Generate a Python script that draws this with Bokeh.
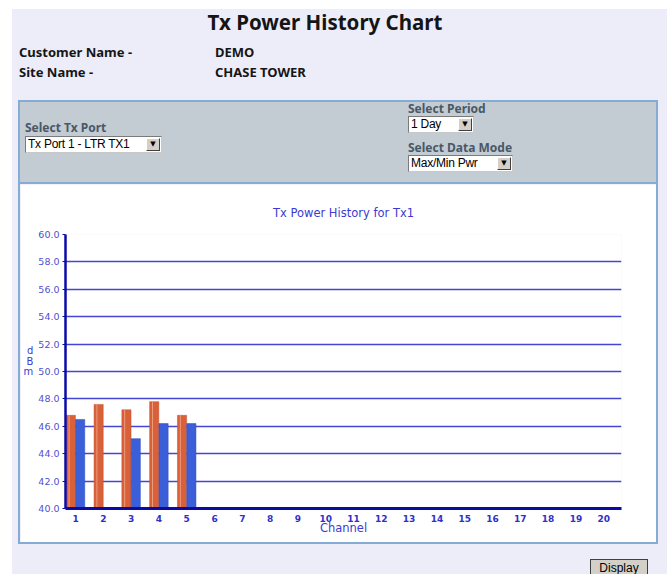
from bokeh.plotting import figure
from bokeh.layouts import column, row
from bokeh.models import (Div, FixedTicker, SingleIntervalTicker,
                          PrintfTickFormatter, Range1d, ColumnDataSource)
from bokeh.transform import dodge
from bokeh.embed import file_html
from bokeh.resources import INLINE

NaN = float("nan")

# ---------------- data ----------------
channels = [1, 2, 3, 4, 5, 6, 7, 8, 9, 10, 11, 12, 13, 14, 15, 16, 17, 18, 19, 20]
max_pwr = [46.8, 47.6, 47.2, 47.8, 46.8, NaN, NaN, NaN, NaN, NaN,
           NaN, NaN, NaN, NaN, NaN, NaN, NaN, NaN, NaN, NaN]
min_pwr = [46.5, NaN, 45.1, 46.2, 46.2, NaN, NaN, NaN, NaN, NaN,
           NaN, NaN, NaN, NaN, NaN, NaN, NaN, NaN, NaN, NaN]
y_min, y_max = 40.0, 60.0
page_title = "Tx Power History Chart"
customer = "DEMO"
site = "CHASE TOWER"
port_option = "Tx Port 1 - LTR TX1"
period_option = "1 Day"
mode_option = "Max/Min Pwr"
chart_title = "Tx Power History for Tx1"

# ---------------- styles ----------------
LAV = "#EDEDFA"
PANEL_GRAY = "#C3CBD3"
EDGE = "#86ACD6"
SEL_TXT = "#4A5866"
BLUE_TXT = "#3B3BCF"
GRID = "#4545D4"
AXIS = "#0A0AA8"
ORANGE = "#D8613A"
BLUE = "#3A5FD8"

ROOT_W = 655
HDR_H = 175
CH_W, CH_H = 636, 358
FTR_H = 32


def abs_text(left, top, text, font, color="#151515", extra=""):
    return (f'<div style="position:absolute;left:{left}px;top:{top}px;white-space:nowrap;'
            f'font:{font};color:{color};{extra}">{text}</div>')


def dropdown(left, top, w, h, text):
    return (f'<div style="position:absolute;left:{left}px;top:{top}px;width:{w}px;height:{h}px;'
            f'box-sizing:border-box;background:#ffffff;border:1px solid;'
            f'border-color:#7a7a7a #c8c8c8 #c8c8c8 #7a7a7a;">'
            f'<div style="position:absolute;left:2px;top:0px;white-space:nowrap;'
            f'font:12px/15px \'Liberation Sans\';letter-spacing:-0.25px;color:#000;">{text}</div>'
            f'<div style="position:absolute;right:1px;top:1px;width:14px;height:13px;'
            f'box-sizing:border-box;background:#D4D0C8;border:1px solid;'
            f'border-color:#ffffff #404040 #404040 #ffffff;font:7px/11px \'DejaVu Sans\';'
            f'text-align:center;color:#000;">&#9660;</div></div>')


HB = "bold 13px/16px 'Noto Sans'"
SB = "bold 12px/14px 'Noto Sans'"
header_html = (
    f'<div style="position:relative;width:{ROOT_W}px;height:{HDR_H}px;background:{LAV};overflow:hidden;">'
    + abs_text(0, 1, page_title, "bold 20.5px/24px 'Noto Sans'", extra="width:626px;text-align:center;")
    + abs_text(7, 35, "Customer Name -", HB)
    + abs_text(203, 35, customer, HB)
    + abs_text(7, 55, "Site Name -", HB)
    + abs_text(203, 55, site, HB)
    + f'<div style="position:absolute;left:6px;top:91px;width:640px;height:84px;box-sizing:border-box;'
      f'background:{PANEL_GRAY};border:2px solid {EDGE};"></div>'
    + abs_text(13, 112, "Select Tx Port", SB, SEL_TXT)
    + dropdown(13, 127, 137, 17, port_option)
    + abs_text(396, 93, "Select Period", SB, SEL_TXT)
    + dropdown(396, 107, 66, 17, period_option)
    + abs_text(396, 132, "Select Data Mode", SB, SEL_TXT)
    + dropdown(396, 146, 105, 17, mode_option)
    + '</div>'
)
header = Div(text=header_html, width=ROOT_W, height=HDR_H, margin=0)

left_strip = Div(text=f'<div style="width:8px;height:{CH_H}px;background:linear-gradient(to right, {LAV} 0px, {LAV} 6px, {EDGE} 6px, {EDGE} 8px);"></div>',
                 width=8, height=CH_H, margin=0)
right_strip = Div(text=f'<div style="width:11px;height:{CH_H}px;background:linear-gradient(to right, {EDGE} 0px, {EDGE} 2px, {LAV} 2px, {LAV} 11px);"></div>',
                  width=11, height=CH_H, margin=0)

footer_html = (
    f'<div style="position:relative;width:{ROOT_W}px;height:{FTR_H}px;background:{LAV};overflow:hidden;">'
    f'<div style="position:absolute;left:6px;top:0px;width:640px;height:2px;background:{EDGE};"></div>'
    f'<div style="position:absolute;left:578px;top:17px;width:58px;height:18px;box-sizing:border-box;'
    f'background:#D4D0C8;border:1px solid #404040;font:12px/16px \'Liberation Sans\';'
    f'text-align:center;color:#000;">Display</div>'
    '</div>'
)
footer = Div(text=footer_html, width=ROOT_W, height=FTR_H, margin=0)

# ---------------- chart ----------------
p = figure(width=CH_W, height=CH_H, output_backend="svg", toolbar_location=None,
           x_range=Range1d(0.64, 20.64), y_range=Range1d(y_min, y_max),
           min_border_left=45, min_border_right=35,
           min_border_top=50, min_border_bottom=34,
           border_fill_color="white", background_fill_color="white",
           outline_line_color=None, margin=0)

p.title.text = chart_title
p.title.align = "center"
p.title.text_font = "DejaVu Sans"
p.title.text_font_size = "11.5px"
p.title.text_font_style = "normal"
p.title.text_color = BLUE_TXT
p.title.standoff = 29

src = ColumnDataSource(dict(ch=channels, mx=max_pwr, mn=min_pwr))
p.vbar(x=dodge("ch", -0.168, range=p.x_range), top="mx", bottom=y_min, width=0.33,
       source=src, fill_color=ORANGE, line_color="#C4502C", line_width=0.5)
p.vbar(x=dodge("ch", -0.23, range=p.x_range), top="mx", bottom=y_min, width=0.03,
       source=src, fill_color="#F2A78A", line_color=None)
p.vbar(x=dodge("ch", 0.168, range=p.x_range), top="mn", bottom=y_min, width=0.33,
       source=src, fill_color=BLUE, line_color="#2C4CC0", line_width=0.5)

p.xgrid.visible = False
p.ygrid.ticker = SingleIntervalTicker(interval=2)
p.ygrid.grid_line_color = GRID
p.ygrid.grid_line_width = 1.4

p.yaxis.ticker = SingleIntervalTicker(interval=2)
p.yaxis.formatter = PrintfTickFormatter(format="%.1f")
p.yaxis.axis_line_color = AXIS
p.yaxis.axis_line_width = 2.5
p.yaxis.major_tick_line_color = AXIS
p.yaxis.major_tick_out = 3
p.yaxis.major_tick_in = 0
p.yaxis.minor_tick_line_color = None
p.yaxis.major_label_text_font = "DejaVu Sans"
p.yaxis.major_label_text_font_size = "9.5px"
p.yaxis.major_label_text_color = "#5050D0"
p.yaxis.major_label_standoff = 2
p.yaxis.axis_label = "d\nB\nm\n \n "
p.yaxis.axis_label_orientation = "horizontal"
p.yaxis.axis_label_text_font = "DejaVu Sans"
p.yaxis.axis_label_text_font_size = "10px"
p.yaxis.axis_label_text_line_height = 0.95
p.yaxis.axis_label_text_font_style = "normal"
p.yaxis.axis_label_text_color = BLUE_TXT
p.yaxis.axis_label_standoff = 2

p.xaxis.ticker = FixedTicker(ticks=channels)
p.xaxis.axis_line_color = AXIS
p.xaxis.axis_line_width = 3
p.xaxis.major_tick_line_color = None
p.xaxis.minor_tick_line_color = None
p.xaxis.major_label_text_font = "DejaVu Sans"
p.xaxis.major_label_text_font_size = "9px"
p.xaxis.major_label_text_font_style = "bold"
p.xaxis.major_label_text_color = "#3030C8"
p.xaxis.major_label_standoff = 0
p.xaxis.axis_label = "Channel"
p.xaxis.axis_label_text_font = "DejaVu Sans"
p.xaxis.axis_label_text_font_size = "11.5px"
p.xaxis.axis_label_text_font_style = "normal"
p.xaxis.axis_label_text_color = BLUE_TXT
p.xaxis.axis_label_standoff = -4

chart_row = row(left_strip, p, right_strip, spacing=0, margin=0)
root = column(header, chart_row, footer, spacing=0, margin=(9, 0, 0, 12),
              styles={"background-color": LAV})

open("out.html", "w").write(file_html(root, INLINE))
